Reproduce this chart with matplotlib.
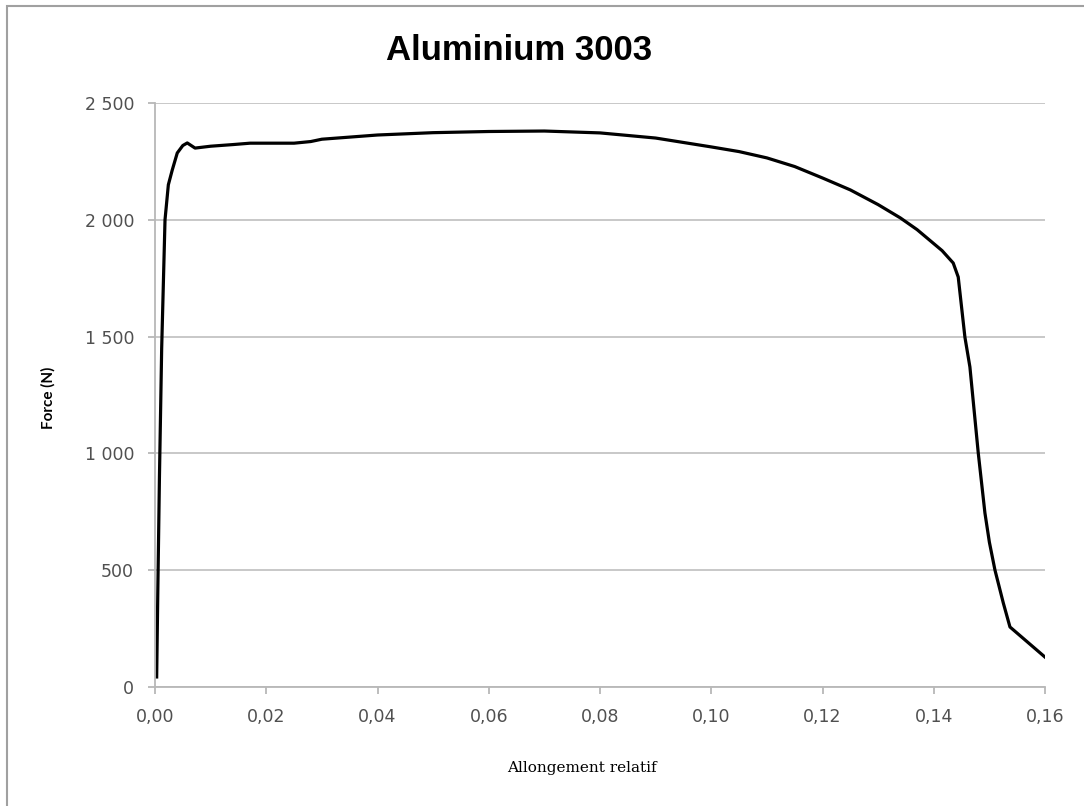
import matplotlib
matplotlib.use("Agg")
import matplotlib.pyplot as plt
from matplotlib.patches import Rectangle
from matplotlib.ticker import FuncFormatter

# courbe de traction
allongement = [0.0003, 0.0005, 0.0008, 0.0012, 0.0018, 0.0024, 0.0031, 0.0040,
               0.0050, 0.0058, 0.0065, 0.0072, 0.0100, 0.0140, 0.0171, 0.0200,
               0.0250, 0.0280, 0.0300, 0.0400, 0.0500, 0.0600, 0.0700, 0.0800,
               0.0900, 0.1000, 0.1050, 0.1100, 0.1150, 0.1200, 0.1250, 0.1300,
               0.1340, 0.1370, 0.1390, 0.1415, 0.1435, 0.1444, 0.1456, 0.1465,
               0.1480, 0.1492, 0.1500, 0.1510, 0.1525, 0.1537, 0.1600]
force = [43, 400, 900, 1450, 2000, 2150, 2213, 2286,
         2318, 2329, 2318, 2307, 2315, 2322, 2328, 2328,
         2328, 2335, 2345, 2363, 2373, 2378, 2380, 2372,
         2350, 2312, 2292, 2265, 2228, 2179, 2128, 2065,
         2008, 1958, 1918, 1868, 1815, 1755, 1498, 1370,
         1002, 745, 620, 501, 360, 257, 128]

x_ticks = [0.00, 0.02, 0.04, 0.06, 0.08, 0.10, 0.12, 0.14, 0.16]
y_ticks = [0, 500, 1000, 1500, 2000, 2500]

fig = plt.figure(figsize=(10.84, 8.06), dpi=100)
ax = fig.add_axes([155/1084, 1 - 687/806, 890/1084, 584/806])

ax.plot(allongement, force, color="black", lw=2.3, solid_joinstyle="round")

ax.set_xlim(0, 0.16)
ax.set_ylim(0, 2500)
ax.set_xticks(x_ticks)
ax.set_yticks(y_ticks)
ax.xaxis.set_major_formatter(FuncFormatter(lambda v, p: f"{v:.2f}".replace(".", ",")))
ax.yaxis.set_major_formatter(FuncFormatter(lambda v, p: f"{int(v):,}".replace(",", " ")))

ax.grid(axis="y", color="#c4c4c4", lw=1.3)
ax.set_axisbelow(True)
for s in ["top", "right"]:
    ax.spines[s].set_visible(False)
for s in ["left", "bottom"]:
    ax.spines[s].set_color("#b8b8b8")
    ax.spines[s].set_linewidth(1.3)
ax.tick_params(axis="both", color="#b8b8b8", width=1.3, length=5,
               labelsize=12.5, labelcolor="#505050")
ax.tick_params(axis="y", pad=10)
ax.tick_params(axis="x", pad=10)
for lab in ax.get_xticklabels() + ax.get_yticklabels():
    lab.set_family("DejaVu Sans")

fig.text(519/1084, 1 - 50/806, "Aluminium 3003", ha="center", va="center",
         fontsize=25, fontweight="bold", family="Liberation Sans")
fig.text(48/1084, 1 - 398/806, "Force (N)", ha="center", va="center",
         rotation=90, fontsize=11, fontweight="bold", family="Lato")
fig.text(582/1084, 1 - 768/806, "Allongement relatif", ha="center", va="center",
         fontsize=11, family="DejaVu Serif")

# cadre gris autour du graphique
fig.patches.append(Rectangle((7/1084, -0.1), 1.2, 1.1 - 6/806, transform=fig.transFigure,
                             fill=False, edgecolor="#a0a0a0", lw=1.5))

fig.savefig("out.png", dpi=100)
